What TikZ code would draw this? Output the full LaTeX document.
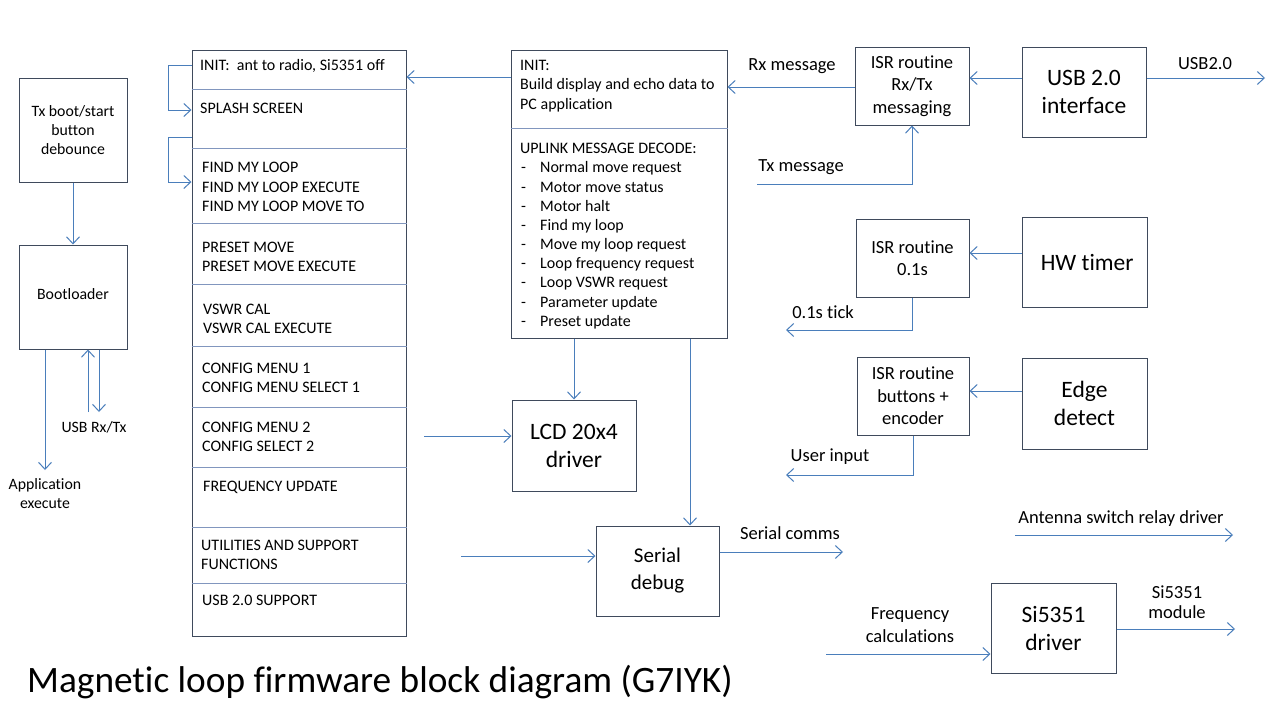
\documentclass[tikz,border=0pt]{standalone}
\usepackage{fontspec}
\setmainfont{Carlito}[Ligatures=NoCommon]
\usetikzlibrary{arrows.meta}
\definecolor{boxc}{HTML}{3F4A5C}
\definecolor{arrc}{HTML}{4A7EBB}
\definecolor{divc}{HTML}{8196BE}
\tikzset{
  blk/.style={draw=boxc, line width=1pt, inner sep=0pt, align=center},
  arr/.style={draw=arrc, line width=1pt, -{Straight Barb[length=7pt,width=13pt]}},
  dv/.style={draw=divc, line width=1pt},
  sm/.style={font=\fontsize{16}{19.2}\selectfont, inner sep=0pt, anchor=west, align=left},
  bt/.style={font=\fontsize{15.8}{19}\selectfont, inner sep=0pt, align=center},
  md/.style={font=\fontsize{18.5}{22.5}\selectfont, inner sep=0pt, align=center},
  lg/.style={font=\fontsize{23.5}{28}\selectfont, inner sep=0pt, align=center},
}
\begin{document}
\begin{tikzpicture}[x=1pt,y=-1pt]
\useasboundingbox (0,0) rectangle (1280,720);
\fill[white] (0,0) rectangle (1280,720);

% left boxes
\node[blk, bt, minimum width=108pt, minimum height=104pt] (txboot) at (73,130) {Tx boot/start\\button\\debounce};
\node[blk, minimum width=108pt, minimum height=104pt] (boot) at (73,297) {};
\node[bt] (bootlbl) at (73,294) {Bootloader};
\draw[arr] (txboot) -- (boot);
\coordinate (append) at (45,470);
\draw[arr] (boot.south -| append) -- (append);
\node[bt] (applbl) at (45,494) {Application\\execute};
\coordinate (usbup) at (88,412);
\coordinate (usbdn) at (99,412);
\draw[arr] (usbup) -- (usbup |- boot.south);
\draw[arr] (usbdn |- boot.south) -- (usbdn);
\node[bt] (usblbl) at (94,427) {USB Rx/Tx};

% main state box
\node[blk, minimum width=214pt, minimum height=586pt] (main) at (299,343) {};
\foreach \yy in {89,148,223,284,346,407,467,527,583}
  \draw[dv] (main.west |- 0,\yy) -- (main.east |- 0,\yy);
\node[sm] (s1) at (200,66) {INIT:\ \ ant to radio, Si5351 off};
\node[sm] (s2) at (200,108) {SPLASH SCREEN};
\node[sm] (s3) at (202,187) {FIND MY LOOP\\FIND MY LOOP EXECUTE\\FIND MY LOOP MOVE TO};
\node[sm] (s4) at (202,256.5) {PRESET MOVE\\PRESET MOVE EXECUTE};
\node[sm] (s5) at (203,318.5) {VSWR CAL\\VSWR CAL EXECUTE};
\node[sm] (s6) at (202,377.5) {CONFIG MENU 1\\CONFIG MENU SELECT 1};
\node[sm] (s7) at (202,436.5) {CONFIG MENU 2\\CONFIG SELECT 2};
\node[sm] (s8) at (203,487) {FREQUENCY UPDATE};
\node[sm] (s9) at (201,554.5) {UTILITIES AND SUPPORT\\FUNCTIONS};
\node[sm] (s10) at (202,600) {USB 2.0 SUPPORT};
\draw[arr] (main.west |- 0,65) -- (168,65) -- (168,110) -- (main.west |- 0,110);
\draw[arr] (main.west |- 0,137) -- (168,137) -- (168,182) -- (main.west |- 0,182);

% middle box
\node[blk, minimum width=216pt, minimum height=288pt] (mid) at (619,194) {};
\draw[dv] (mid.west |- 0,128) -- (mid.east |- 0,128);
\node[sm] (m1) at (520,86) {INIT:\\Build display and echo data to\\PC application};
\node[sm] (m2) at (520,148) {UPLINK MESSAGE DECODE:};
\foreach \t [count=\i from 0] in {Normal move request,Motor move status,Motor halt,Find my loop,Move my loop request,Loop frequency request,Loop VSWR request,Parameter update,Preset update}{
  \node[sm] (mt\i) at (521,168+19.25*\i) {\makebox[19pt][l]{-}\t};
}
\draw[arr] (mid.west |- 0,77) -- (main.east |- 0,77);

% USB / ISR rx-tx
\node[blk, md, minimum width=114pt, minimum height=78pt] (isr1) at (912,86) {ISR routine\\Rx/Tx\\messaging};
\node[blk, lg, minimum width=124pt, minimum height=90pt] (usb) at (1084,92) {USB 2.0\\interface};
\draw[arr] (usb.west |- 0,78) -- (isr1.east |- 0,78);
\coordinate (usbout) at (1265,78);
\draw[arr] (usb.east |- usbout) -- (usbout);
\node[md] (usb2lbl) at (1205,64) {USB2.0};
\draw[arr] (isr1.west |- 0,87) -- (mid.east |- 0,87);
\node[md] (rxlbl) at (792,66) {Rx message};
\coordinate (txin) at (757,184);
\draw[arr] (txin) -- (txin -| isr1.south) -- (isr1.south);
\node[md] (txlbl) at (801,167) {Tx message};

% timer
\node[blk, md, minimum width=113pt, minimum height=78pt] (isr2) at (912.5,258) {ISR routine\\0.1s};
\node[blk, lg, minimum width=125pt, minimum height=90pt] (hw) at (1084.5,262) {\ HW timer};
\draw[arr] (hw.west |- 0,253) -- (isr2.east |- 0,253);
\coordinate (tickend) at (786,330);
\draw[arr] (isr2.south) -- (isr2.south |- tickend) -- (tickend);
\node[md] (ticklbl) at (823,312) {0.1s tick};

% edge detect
\node[blk, md, minimum width=112pt, minimum height=78pt] (isr3) at (913,396) {ISR routine\\buttons +\\encoder};
\node[blk, lg, minimum width=125pt, minimum height=91pt] (edge) at (1084.5,403.5) {Edge\\detect};
\draw[arr] (edge.west |- 0,391) -- (isr3.east |- 0,391);
\coordinate (uiend) at (786,475);
\draw[arr] (isr3.south) -- (isr3.south |- uiend) -- (uiend);
\node[md] (uilbl) at (830,457) {User input};

% LCD
\node[blk, lg, minimum width=124pt, minimum height=91pt] (lcd) at (574,445.5) {LCD 20x4\\driver};
\draw[arr] (mid.south -| lcd.north) -- (lcd.north);
\coordinate (lcdin) at (424,436);
\draw[arr] (lcdin) -- (lcdin -| lcd.west);

% Serial debug
\node[blk, font=\fontsize{21}{27}\selectfont, minimum width=123pt, minimum height=90pt] (serial) at (657.5,571) {Serial\\debug};
\draw[arr] (mid.south -| 690,0) -- (serial.north -| 690,0);
\coordinate (serin) at (461,556);
\draw[arr] (serin) -- (serin -| serial.west);
\coordinate (serout) at (843,552);
\draw[arr] (serial.east |- serout) -- (serout);
\node[md] (serlbl) at (790,533) {Serial comms};

% antenna
\coordinate (antin) at (1015,535);
\coordinate (antout) at (1233,535);
\draw[arr] (antin) -- (antout);
\node[md] (antlbl) at (1121,519) {Antenna switch relay driver};

% Si5351
\node[blk, lg, minimum width=125pt, minimum height=90pt] (si) at (1053.5,628) {Si5351\\driver};
\coordinate (fcin) at (826,654);
\draw[arr] (fcin) -- (fcin -| si.west);
\node[md] (fclbl) at (910,625) {Frequency\\calculations};
\coordinate (siout) at (1235,629);
\draw[arr] (si.east |- siout) -- (siout);
\node[md, font=\fontsize{18.5}{20.5}\selectfont] (silbl) at (1177,602) {Si5351\\module};

% title
\node[font=\fontsize{37.3}{42}\selectfont, inner sep=0pt, anchor=west] (title) at (27,682) {Magnetic loop firmware block diagram (G7IYK)};
\end{tikzpicture}
\end{document}
